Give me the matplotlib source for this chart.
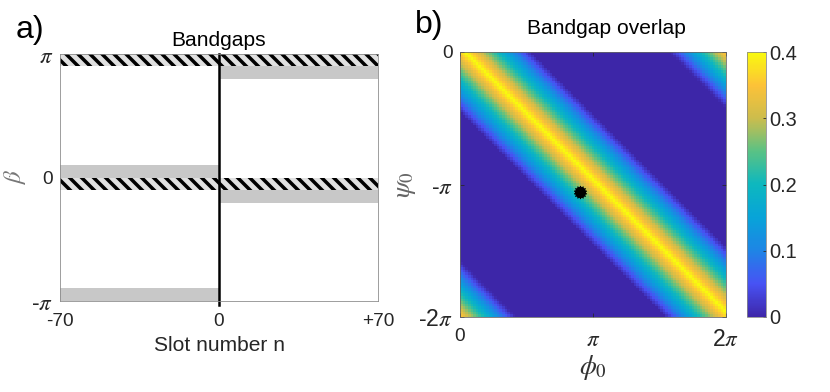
import numpy as np
import matplotlib
matplotlib.use("Agg")
from matplotlib import pyplot as plt
from matplotlib.colors import LinearSegmentedColormap

plt.rcParams['font.family'] = ['Liberation Sans', 'DejaVu Sans']
plt.rcParams['mathtext.fontset'] = 'stix'
plt.rcParams['hatch.linewidth'] = 3.5

PI = np.pi

# panel a) band gaps, beta ranges (rad) and slot ranges
left_gap_lo = [-PI, 0.0]
left_gap_hi = [-PI + 0.33, 0.33]
right_gap_lo = [PI - 0.64, -0.64]
right_gap_hi = [PI - 0.31, -0.31]
shared_lo = [PI - 0.31, -0.31]
shared_hi = [PI, 0.0]
slot_left = [-70, 0]
slot_right = [0, 70]

# panel b) overlap profile across the diagonal s = phi0 + psi0
band_s = [-8.0, -6.5, -5.0, -1.45, 0.12, 1.7, 5.0, 6.5, 8.0]
band_val = [0.0, 0.4, 0.0, 0.0, 0.4, 0.0, 0.0, 0.4, 0.0]
marker_phi = [2.84]
marker_psi = [-3.33]

# parula-like colormap anchors
parula = [(0.2422, 0.1504, 0.6603), (0.2810, 0.3228, 0.9579),
          (0.1200, 0.5200, 0.9000), (0.0300, 0.6400, 0.8500),
          (0.0500, 0.7200, 0.7500), (0.3500, 0.7600, 0.5200),
          (0.8000, 0.7400, 0.3000), (0.9900, 0.7600, 0.2200),
          (0.9763, 0.9831, 0.0538)]
cmap = LinearSegmentedColormap.from_list('parula', parula)


def pi_size(labels):
    # the pi glyphs come out small in mathtext, bump those labels up
    for t in labels:
        if 'pi' in t.get_text():
            t.set_fontsize(23)


fig = plt.figure(figsize=(830 / 72, 392 / 72), dpi=72)

# ---- panel a
ax = fig.add_axes([60 / 830, 1 - 301 / 392, 318 / 830, 247 / 392])
for lo, hi in zip(left_gap_lo, left_gap_hi):
    ax.barh(lo, slot_left[1] - slot_left[0], height=hi - lo, left=slot_left[0],
            align='edge', color='#c8c8c8', linewidth=0)
for lo, hi in zip(right_gap_lo, right_gap_hi):
    ax.barh(lo, slot_right[1] - slot_right[0], height=hi - lo, left=slot_right[0],
            align='edge', color='#c8c8c8', linewidth=0)
for lo, hi in zip(shared_lo, shared_hi):
    ax.barh(lo, slot_right[1] - slot_left[0], height=hi - lo, left=slot_left[0],
            align='edge', color='#e0e0e0', edgecolor='black', linewidth=0, hatch='\\\\')
ax.axvline(0, ymin=-0.018, ymax=1.0, color='black', lw=2.5, clip_on=False)
ax.set_xlim(-70, 70)
ax.set_ylim(-PI, PI)
ax.set_xticks([-70, 0, 70])
ax.set_xticklabels(['-70', '0', '+70'])
ax.set_yticks([-PI, 0, PI])
ax.set_yticklabels(['-$\\pi$', '0', '$\\pi$'])
ax.tick_params(length=0, labelsize=19, colors='#262626', pad=7)
ax.tick_params(axis='x', pad=12)
pi_size(ax.get_yticklabels())
for sp in ax.spines.values():
    sp.set_color('#888888')
ax.set_title('Bandgaps', fontsize=21, pad=8)
ax.set_xlabel('Slot number n', fontsize=21, color='#262626', labelpad=6)
ax.set_ylabel('$\\beta$', fontsize=25, color='#777777', labelpad=3)

# ---- panel b
phi = np.linspace(0, 2 * PI, 101)
psi = np.linspace(0, -2 * PI, 101)
PHI, PSI = np.meshgrid(phi, psi)
overlap = np.interp(PHI + PSI, band_s, band_val)

bx = fig.add_axes([460 / 830, 1 - 317 / 392, 266 / 830, 265 / 392])
im = bx.imshow(overlap, extent=[0, 2 * PI, -2 * PI, 0], origin='upper',
               cmap=cmap, vmin=0, vmax=0.4, aspect='auto', interpolation='nearest')
bx.plot(marker_phi, marker_psi, 'o', color='black', ms=10)
bx.plot(marker_phi, marker_psi, marker=(14, 1, 0), color='black', ms=13, ls='none')
bx.set_xticks([0, PI, 2 * PI])
bx.set_xticklabels(['0', '$\\pi$', '2$\\pi$'])
bx.set_yticks([-2 * PI, -PI, 0])
bx.set_yticklabels(['-2$\\pi$', '-$\\pi$', '0'])
bx.tick_params(direction='in', length=4, top=True, right=True, labelsize=19,
               colors='#262626', pad=7)
bx.tick_params(axis='x', pad=11)
pi_size(bx.get_xticklabels())
pi_size(bx.get_yticklabels())
for sp in bx.spines.values():
    sp.set_color('#666666')
bx.set_title('Bandgap overlap', fontsize=21, pad=18, x=0.55)
bx.set_xlabel('$\\phi_0$', fontsize=27, color='#333333', labelpad=2)
bx.set_ylabel('$\\psi_0$', fontsize=27, color='#666666', labelpad=0)

cax = fig.add_axes([747 / 830, 1 - 317 / 392, 19 / 830, 265 / 392])
cb = fig.colorbar(im, cax=cax, ticks=[0, 0.1, 0.2, 0.3, 0.4])
cb.ax.set_yticklabels(['0', '0.1', '0.2', '0.3', '0.4'])
cb.ax.tick_params(direction='in', length=3, labelsize=20, colors='#262626', pad=3)
cb.outline.set_edgecolor('#888888')

fig.text(16 / 830, 1 - 30 / 392, 'a)', fontsize=32, va='center', ha='left')
fig.text(415 / 830, 1 - 25 / 392, 'b)', fontsize=32, va='center', ha='left')

fig.savefig('out.png', dpi=72)
